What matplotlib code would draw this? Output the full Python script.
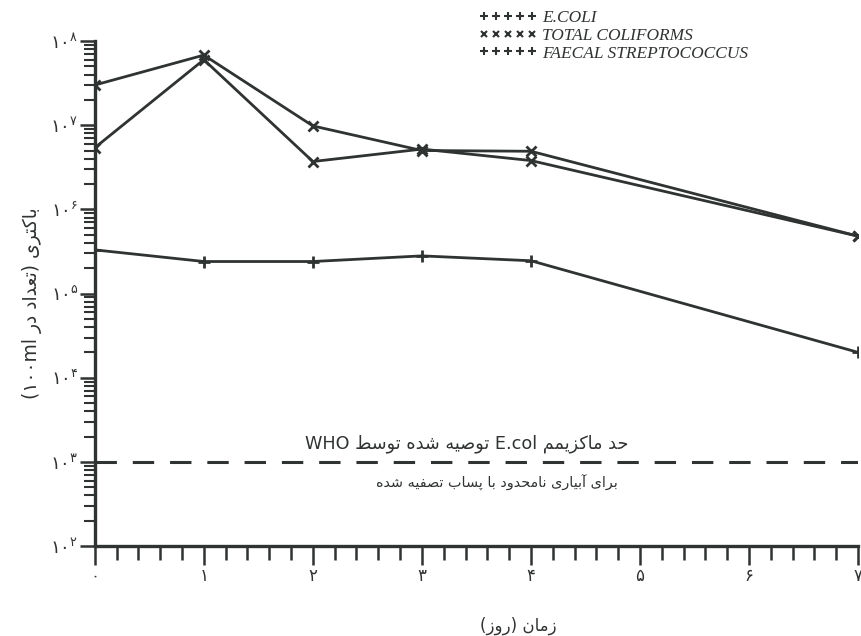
import re
import matplotlib
matplotlib.use("Agg")
import matplotlib.pyplot as plt
from matplotlib.lines import Line2D
from matplotlib.font_manager import FontProperties
from matplotlib.ticker import FixedLocator, LogLocator, NullFormatter, FixedFormatter

# ---- data -------------------------------------------------------------
days = [0, 1, 2, 3, 4, 7]
total_coliforms = [3.0e7, 6.8e7, 9.8e6, 5.0e6, 4.9e6, 4.8e5]
e_coli = [5.4e6, 6.0e7, 3.7e6, 5.2e6, 3.8e6, 4.8e5]
faecal_strep = [3.3e5, 2.4e5, 2.4e5, 2.8e5, 2.45e5, 2.0e4]
who_limit = 1.0e3

x_ticks = [0, 1, 2, 3, 4, 5, 6, 7]
x_tick_labels = ["۰", "۱", "۲", "۳", "۴", "۵", "۶", "۷"]
y_decades = [1e2, 1e3, 1e4, 1e5, 1e6, 1e7, 1e8]
y_exponents = ["۲", "۳", "۴", "۵", "۶", "۷", "۸"]

series_names = ["E.COLI", "TOTAL COLIFORMS", "FAECAL STREPTOCOCCUS"]
y_title = "باکتری (تعداد در ۱۰۰ml)"
x_title = "زمان (روز)"
limit_text_top = "حد ماکزیمم E.col توصیه شده توسط WHO"
limit_text_bottom = "برای آبیاری نامحدود با پساب تصفیه شده"

# ---- minimal Persian shaping (presentation forms + visual order) -------
FORMS = {
    "ا": ("\uFE8D", "\uFE8E", None, None),
    "آ": ("\uFE81", "\uFE82", None, None),
    "ب": ("\uFE8F", "\uFE90", "\uFE91", "\uFE92"),
    "پ": ("\uFB56", "\uFB57", "\uFB58", "\uFB59"),
    "ت": ("\uFE95", "\uFE96", "\uFE97", "\uFE98"),
    "ح": ("\uFEA1", "\uFEA2", "\uFEA3", "\uFEA4"),
    "د": ("\uFEA9", "\uFEAA", None, None),
    "ر": ("\uFEAD", "\uFEAE", None, None),
    "ز": ("\uFEAF", "\uFEB0", None, None),
    "س": ("\uFEB1", "\uFEB2", "\uFEB3", "\uFEB4"),
    "ش": ("\uFEB5", "\uFEB6", "\uFEB7", "\uFEB8"),
    "ص": ("\uFEB9", "\uFEBA", "\uFEBB", "\uFEBC"),
    "ط": ("\uFEC1", "\uFEC2", "\uFEC3", "\uFEC4"),
    "ع": ("\uFEC9", "\uFECA", "\uFECB", "\uFECC"),
    "ف": ("\uFED1", "\uFED2", "\uFED3", "\uFED4"),
    "ک": ("\uFB8E", "\uFB8F", "\uFB90", "\uFB91"),
    "م": ("\uFEE1", "\uFEE2", "\uFEE3", "\uFEE4"),
    "ن": ("\uFEE5", "\uFEE6", "\uFEE7", "\uFEE8"),
    "و": ("\uFEED", "\uFEEE", None, None),
    "ه": ("\uFEE9", "\uFEEA", "\uFEEB", "\uFEEC"),
    "ی": ("\uFBFC", "\uFBFD", "\uFBFE", "\uFBFF"),
}
MIRROR = {"(": ")", ")": "("}


def shape_run(run):
    out = []
    for i, c in enumerate(run):
        if c not in FORMS:
            out.append(MIRROR.get(c, c))
            continue
        prev = run[i - 1] if i > 0 else None
        nxt = run[i + 1] if i + 1 < len(run) else None
        jp = prev in FORMS and FORMS[prev][2] is not None
        jn = nxt in FORMS and FORMS[c][2] is not None
        f = FORMS[c]
        out.append(f[3] if jp and jn else f[1] if jp else f[2] if jn else f[0])
    return "".join(reversed(out))


def rtl(text):
    runs = re.findall(r"[A-Za-z0-9۰-۹.]+|[^A-Za-z0-9۰-۹.]+", text)
    vis = []
    for r in reversed(runs):
        if re.match(r"[A-Za-z0-9۰-۹.]", r):
            vis.append(r)
        else:
            vis.append(shape_run(r))
    return "".join(vis)


# ---- figure -----------------------------------------------------------
ink = "#2f3331"
plt.rcParams["font.family"] = ["DejaVu Sans"]

fig = plt.figure(figsize=(8.62, 6.36), dpi=100)
ax = fig.add_axes([0.110, 0.1415, 0.8854, 0.794])

ax.set_yscale("log")
ax.set_xlim(0, 7)
ax.set_ylim(1e2, 1e8)

lw = 2.0
ax.plot(days, total_coliforms, color=ink, lw=lw, marker="x", ms=7, mew=2)
ax.plot(days, e_coli, color=ink, lw=lw, marker="x", ms=7, mew=2)
ax.plot(days, faecal_strep, color=ink, lw=lw, marker="+", ms=9, mew=2)
ax.plot([0, 7], [who_limit, who_limit], color=ink, lw=2.2,
        dashes=(7, 5.2))

for side in ("top", "right"):
    ax.spines[side].set_visible(False)
for side in ("left", "bottom"):
    ax.spines[side].set_linewidth(2.4)
    ax.spines[side].set_color(ink)

ax.xaxis.set_major_locator(FixedLocator(x_ticks))
ax.xaxis.set_major_formatter(FixedFormatter(x_tick_labels))
ax.xaxis.set_minor_locator(FixedLocator([i * 0.2 for i in range(36)]))
ax.tick_params(axis="x", which="major", length=14, width=1.8, color=ink,
               labelsize=12, pad=1, labelcolor=ink)
ax.tick_params(axis="x", which="minor", length=10, width=1.8, color=ink)

ax.yaxis.set_major_locator(FixedLocator(y_decades))
ax.yaxis.set_major_formatter(FixedFormatter(
    [r"$\mathregular{۱۰^{%s}}$" % e for e in y_exponents]))
ax.yaxis.set_minor_locator(LogLocator(base=10, subs=range(2, 10), numticks=20))
ax.yaxis.set_minor_formatter(NullFormatter())
ax.tick_params(axis="y", which="major", length=11, width=1.8, color=ink,
               labelsize=13, pad=1, labelcolor=ink)
ax.tick_params(axis="y", which="minor", length=8, width=1.5, color=ink)

ax.set_ylabel(rtl(y_title), fontsize=13.5, color=ink)
ax.yaxis.set_label_coords(-0.0695, 0.481)

fig.text(518 / 862, 1 - 626 / 636, rtl(x_title), fontsize=12, color=ink,
         ha="center", va="center")

ax.text(4.89, 1.64e3, rtl(limit_text_top), fontsize=12.7, color=ink,
        ha="right", va="center")
ax.text(4.80, 5.6e2, rtl(limit_text_bottom), fontsize=10.4, color=ink,
        ha="right", va="center")

handles = [
    Line2D([], [], ls="none", marker="+", ms=6, mew=1.5, color=ink),
    Line2D([], [], ls="none", marker="x", ms=5, mew=1.5, color=ink),
    Line2D([], [], ls="none", marker="+", ms=6, mew=1.5, color=ink),
]
fig.legend(handles, series_names, numpoints=5, handlelength=3.35,
           handletextpad=0.3, labelspacing=0.1, frameon=False,
           loc="upper left", bbox_to_anchor=(463 / 862, 1 + 6 / 636),
           prop=FontProperties(family="Liberation Serif", style="italic",
                               size=12.5),
           labelcolor=ink)

fig.savefig("out.png", dpi=100, facecolor="white")
